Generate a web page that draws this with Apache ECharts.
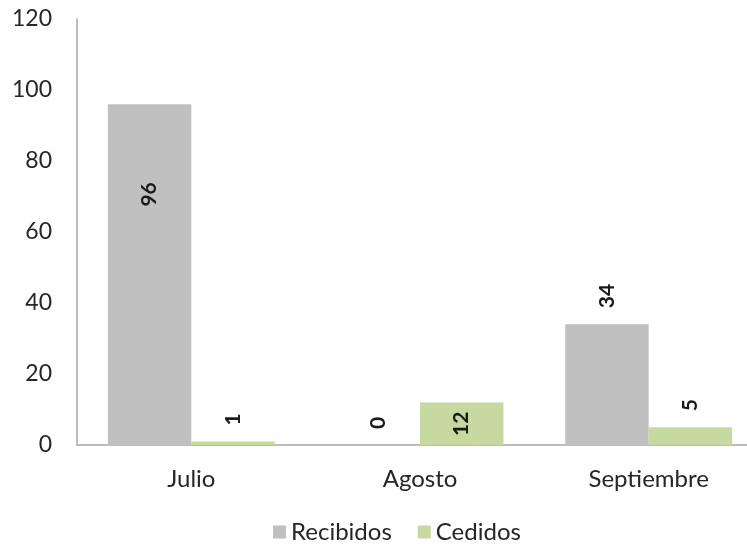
<!DOCTYPE html>
<html>
<head>
<meta charset="utf-8">
<script src="https://cdn.jsdelivr.net/npm/echarts@6/dist/echarts.min.js"></script>
<style>html,body{margin:0;padding:0;background:#fff}#c{width:747px;height:545px}</style>
</head>
<body>
<div id="c"></div>
<script>
const categories = ['Julio', 'Agosto', 'Septiembre'];
const recibidos = [96, 0, 34];
const cedidos = [1, 12, 5];
const yTicks = [0, 20, 40, 60, 80, 100, 120];

const FONT = 'Lato';
const topLabel = {show: true, position: 'top', distance: 16, rotate: 90, align: 'left', verticalAlign: 'middle',
  fontFamily: FONT, fontWeight: 'bold', fontSize: 21, color: '#1a1a1a'};

function labelFor(v) {
  if (v >= 60) return {position: ['50%', 78], align: 'right', verticalAlign: 'middle'};
  if (v >= 10 && v < 20) return {position: 'inside', align: 'center', verticalAlign: 'middle'};
  return {};
}

const chart = echarts.init(document.getElementById('c'));
chart.setOption({
  animation: false,
  textStyle: {fontFamily: FONT},
  grid: {left: 77, top: 19, bottom: 100, right: -16, containLabel: false, outerBoundsMode: 'none'},
  legend: {
    top: 515, left: 268, itemWidth: 13, itemHeight: 13, itemGap: 26,
    icon: 'rect',
    textStyle: {fontFamily: FONT, fontSize: 24, color: '#262626'},
    data: ['Recibidos', 'Cedidos']
  },
  xAxis: {
    type: 'category', data: categories,
    axisLine: {lineStyle: {color: '#a6a6a6', width: 1.5}},
    axisTick: {show: false},
    axisLabel: {fontFamily: FONT, fontSize: 24, color: '#262626', margin: 22}
  },
  yAxis: {
    type: 'value', min: yTicks[0], max: yTicks[yTicks.length - 1], interval: 20,
    axisLine: {show: true, lineStyle: {color: '#a6a6a6', width: 1.5}},
    axisTick: {show: false},
    splitLine: {show: false},
    axisLabel: {fontFamily: FONT, fontSize: 23, color: '#262626', margin: 25}
  },
  series: [
    {
      name: 'Recibidos', type: 'bar', barGap: '0%', barCategoryGap: '27%',
      itemStyle: {color: '#c0c0c0'},
      label: topLabel,
      data: recibidos.map(v => ({value: v, label: labelFor(v)}))
    },
    {
      name: 'Cedidos', type: 'bar', barGap: '0%', barCategoryGap: '27%',
      itemStyle: {color: '#c6d9a0'},
      label: topLabel,
      data: cedidos.map(v => ({value: v, label: labelFor(v)}))
    }
  ]
});
</script>
</body>
</html>
